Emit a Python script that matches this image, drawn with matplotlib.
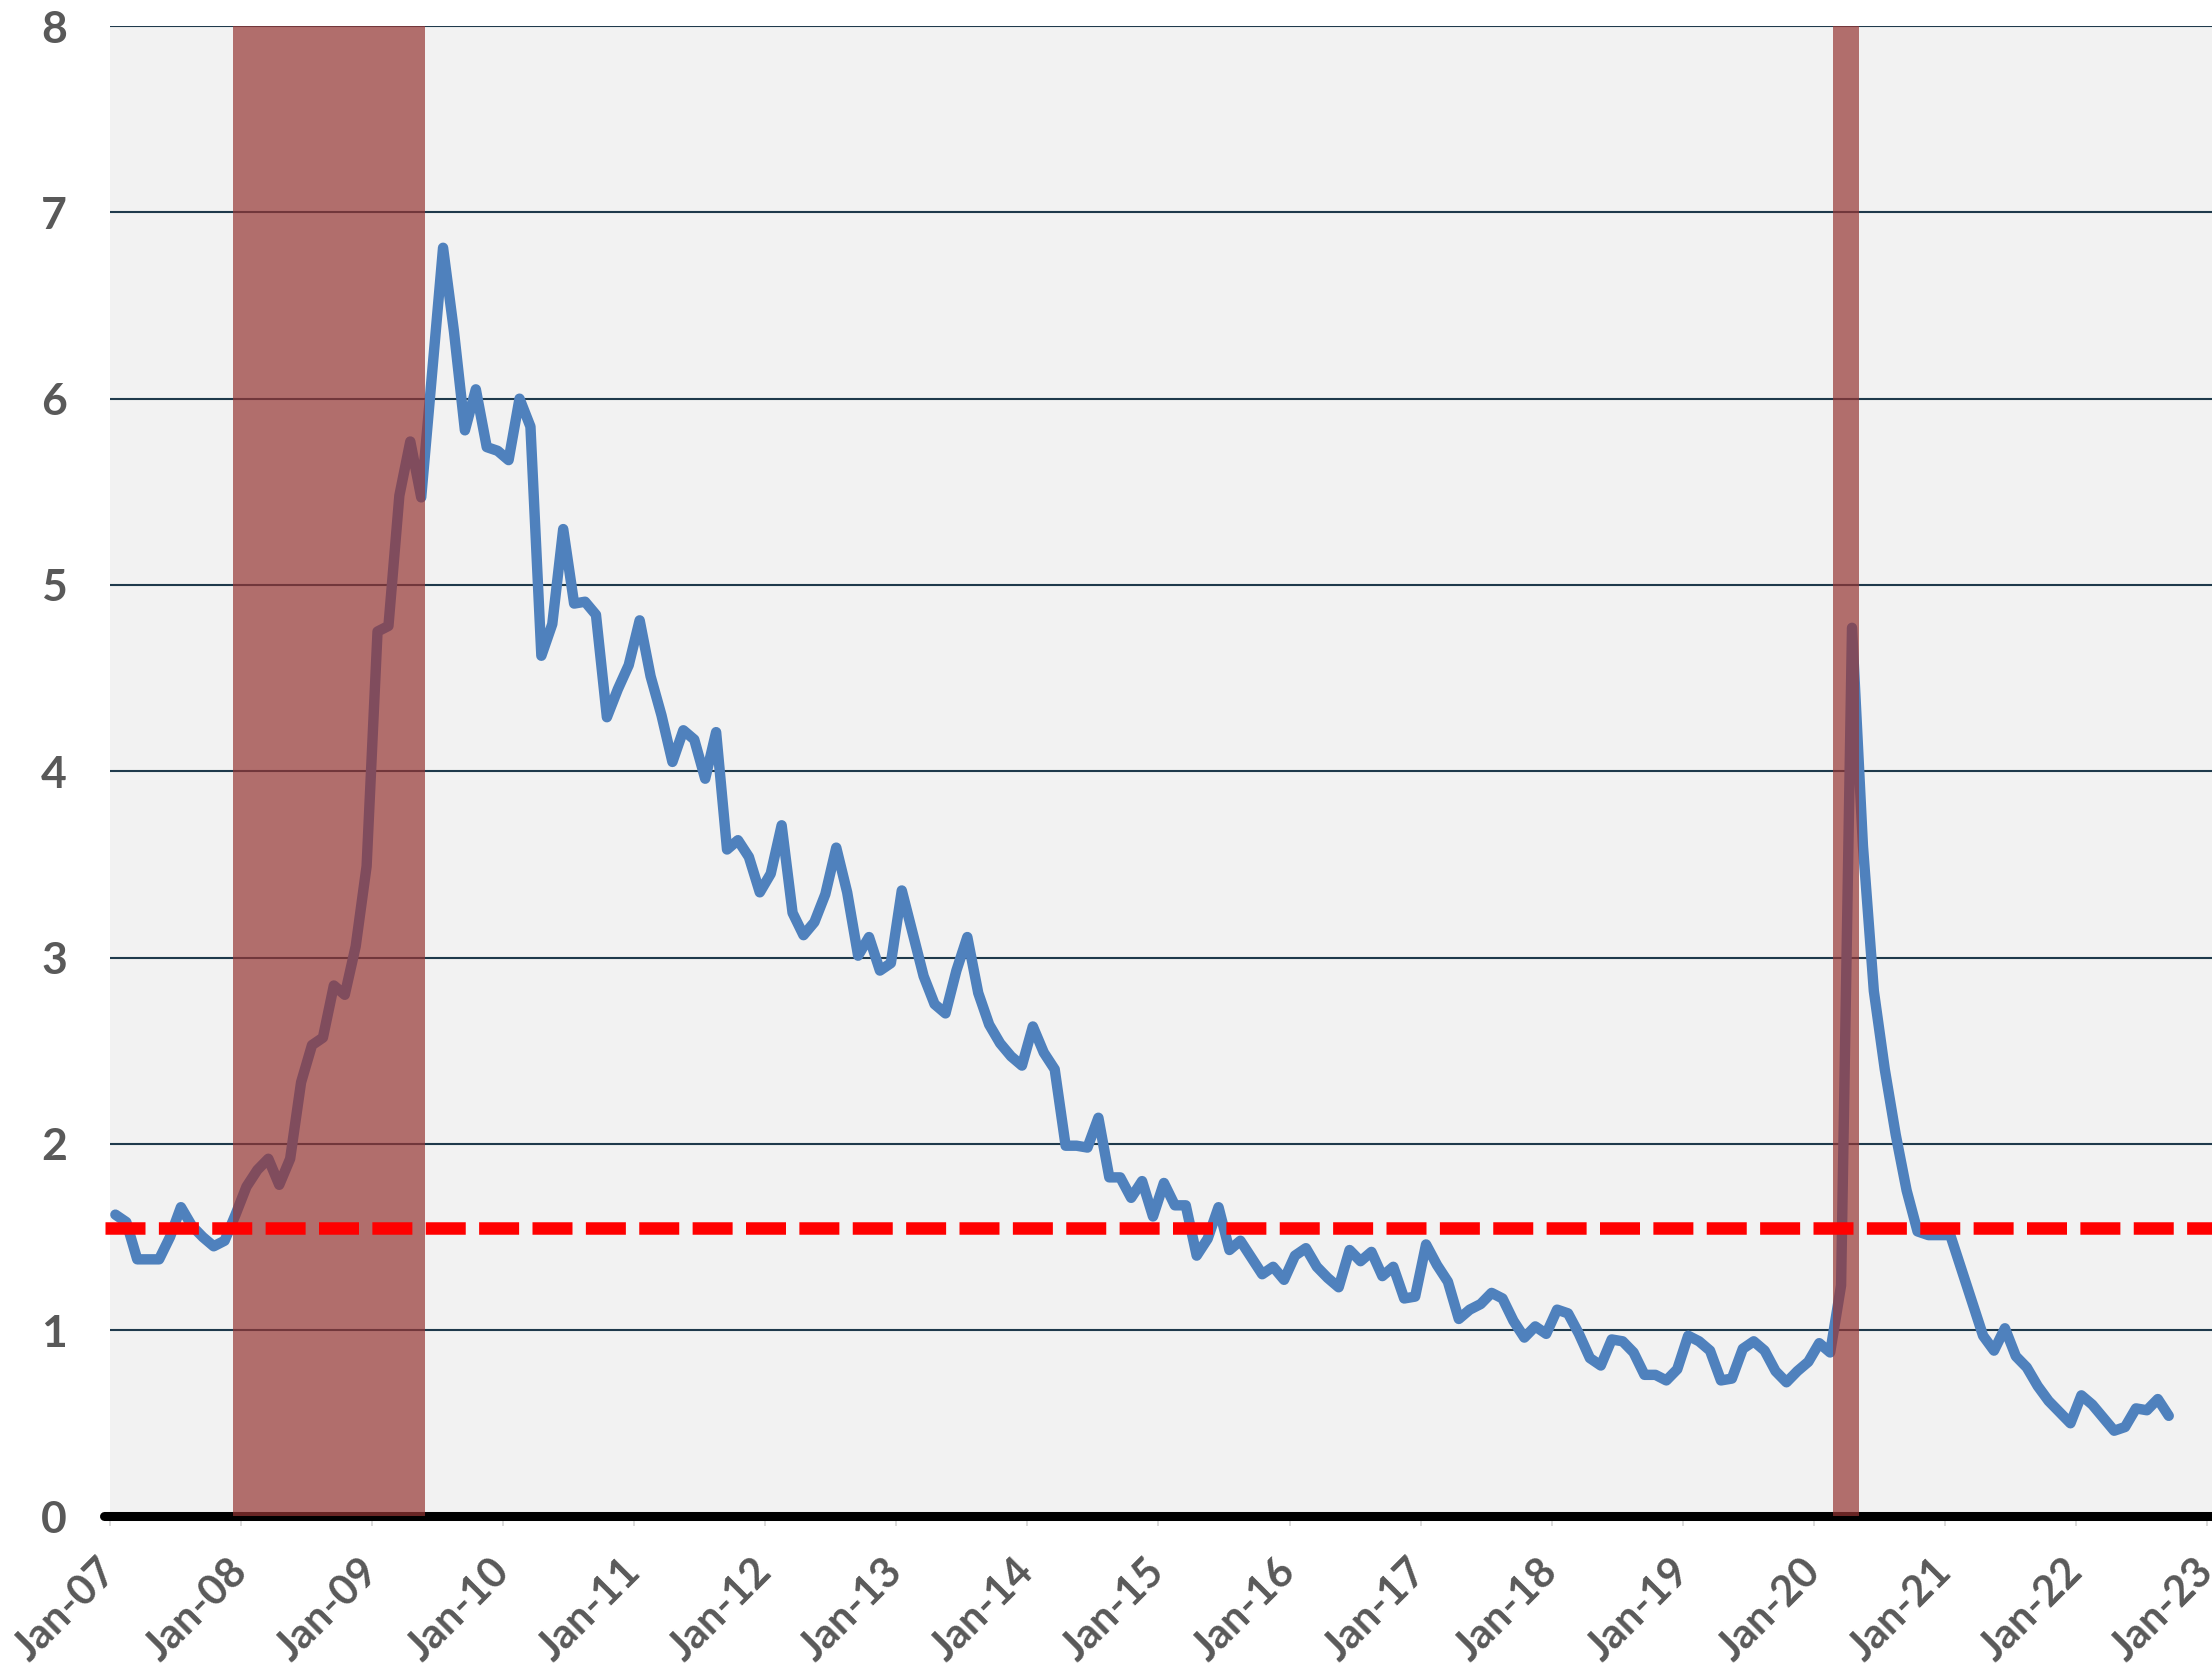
import numpy as np
import matplotlib
matplotlib.use("Agg")
import matplotlib.pyplot as plt

# monthly series, Jan-2007 .. Sep-2022
values = [
    1.62, 1.58, 1.38, 1.38, 1.38, 1.50, 1.66, 1.56, 1.50, 1.45, 1.48, 1.62,   # 2007
    1.77, 1.86, 1.92, 1.78, 1.92, 2.33, 2.53, 2.57, 2.85, 2.80, 3.06, 3.49,   # 2008
    4.75, 4.78, 5.48, 5.77, 5.47, 6.14, 6.81, 6.36, 5.83, 6.05, 5.74, 5.72,   # 2009
    5.67, 6.00, 5.85, 4.62, 4.79, 5.30, 4.90, 4.91, 4.84, 4.29, 4.44, 4.57,   # 2010
    4.81, 4.51, 4.30, 4.05, 4.22, 4.17, 3.96, 4.21, 3.58, 3.63, 3.54, 3.35,   # 2011
    3.45, 3.71, 3.24, 3.12, 3.19, 3.34, 3.59, 3.35, 3.01, 3.11, 2.93, 2.97,   # 2012
    3.36, 3.13, 2.90, 2.75, 2.70, 2.93, 3.11, 2.81, 2.64, 2.54, 2.47, 2.42,   # 2013
    2.63, 2.49, 2.40, 1.99, 1.99, 1.98, 2.14, 1.82, 1.82, 1.71, 1.80, 1.61,   # 2014
    1.79, 1.67, 1.67, 1.40, 1.49, 1.66, 1.43, 1.48, 1.39, 1.30, 1.34, 1.27,   # 2015
    1.40, 1.44, 1.34, 1.28, 1.23, 1.43, 1.37, 1.42, 1.29, 1.34, 1.17, 1.18,   # 2016
    1.46, 1.35, 1.26, 1.06, 1.11, 1.14, 1.20, 1.17, 1.05, 0.96, 1.02, 0.98,   # 2017
    1.11, 1.09, 0.98, 0.85, 0.81, 0.95, 0.94, 0.88, 0.76, 0.76, 0.73, 0.79,   # 2018
    0.97, 0.94, 0.89, 0.73, 0.74, 0.90, 0.94, 0.89, 0.78, 0.72, 0.78, 0.83,   # 2019
    0.93, 0.88, 1.24, 4.77, 3.60, 2.82, 2.40, 2.05, 1.75, 1.53, 1.51, 1.51,   # 2020
    1.51, 1.33, 1.15, 0.97, 0.89, 1.01, 0.86, 0.80, 0.70, 0.62, 0.56, 0.50,   # 2021
    0.65, 0.60, 0.53, 0.46, 0.48, 0.58, 0.57, 0.63, 0.54,                     # 2022
]

# recession shading, in months after Jan-07
rec_start = [11.25, 157.8]
rec_end = [28.85, 160.1]

target = 1.55

year_labels = ["Jan-07", "Jan-08", "Jan-09", "Jan-10", "Jan-11", "Jan-12", "Jan-13",
               "Jan-14", "Jan-15", "Jan-16", "Jan-17", "Jan-18", "Jan-19", "Jan-20",
               "Jan-21", "Jan-22", "Jan-23"]
y_ticks = [0, 1, 2, 3, 4, 5, 6, 7, 8]

plt.rcParams['font.family'] = ['Lato', 'DejaVu Sans']
plt.rcParams['font.weight'] = 'bold'

fig = plt.figure(figsize=(22.12, 16.71), dpi=100)
ax = fig.add_axes([0.0497, 0.0925, 1 - 0.0497, 0.8919])
ax.set_facecolor('#F2F2F2')

x = np.arange(len(values)) + 0.5
ax.plot(x, values, color='#4F81BD', lw=7.5, solid_joinstyle='round',
        solid_capstyle='round', zorder=2)

for s, e in zip(rec_start, rec_end):
    ax.axvspan(s, e, color='#963634', alpha=0.7, lw=0, zorder=3)

ax.axhline(target, xmin=-0.0025, color='#FF0000', lw=9, ls=(0, (3.2, 1.07)),
           dash_capstyle='butt', clip_on=False, zorder=4)
ax.axhline(0, xmin=-0.003, color='black', lw=6.5, solid_capstyle='round',
           clip_on=False, zorder=2.5)

ax.set_xlim(0, 192.46)
ax.set_ylim(0, 8)
ax.set_yticks(y_ticks)
ax.set_yticklabels([str(v) for v in y_ticks])
ax.set_xticks(np.arange(0, 193, 12))
ax.set_xticklabels(year_labels, rotation=45, ha='right', va='center',
                   rotation_mode='anchor')

ax.yaxis.grid(True, color='#1F3A4C', lw=1.5, zorder=0.5)
ax.set_axisbelow(True)
for sp in ax.spines.values():
    sp.set_visible(False)

ax.tick_params(axis='y', length=0, pad=31, labelsize=32, labelcolor='#595959')
ax.tick_params(axis='x', length=7, width=1.3, color='#D9D9D9', pad=28,
               labelsize=30, labelcolor='#595959')

fig.savefig('out.png', dpi=100)
